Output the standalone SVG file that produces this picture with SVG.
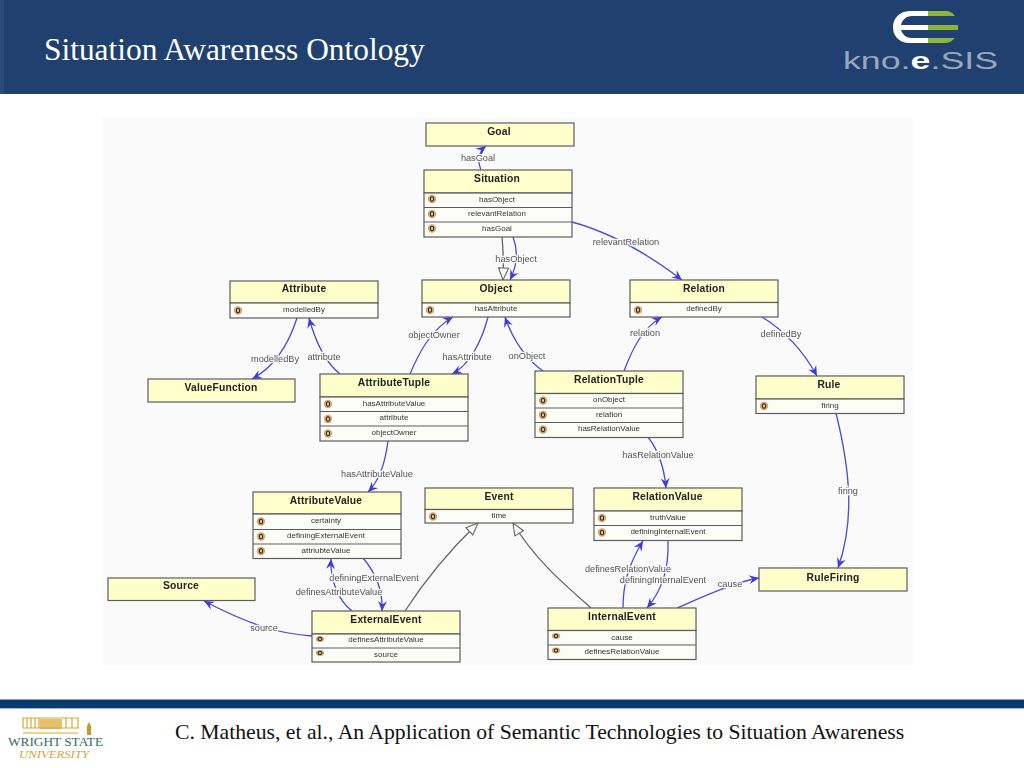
<svg xmlns="http://www.w3.org/2000/svg" width="1024" height="768" viewBox="0 0 1024 768">
<style>
text{font-family:"Liberation Sans",Arial,sans-serif}
.box{fill:#fdfdf8;stroke:#5c5c5c;stroke-width:1.2}
.hd{fill:#ffffcc;stroke:#5c5c5c;stroke-width:1.2}
.ln{stroke:#5c5c5c;stroke-width:1.1}
.nm{font-size:10.3px;font-weight:700;fill:#222;text-anchor:middle;letter-spacing:.2px}
.rw{font-size:8px;fill:#333;text-anchor:middle}
.e{fill:none;stroke:#4a4ad8;stroke-width:1.3;marker-end:url(#arr)}
.s{fill:none;stroke:#666;stroke-width:1.3;marker-end:url(#tri)}
.lb{font-size:9.2px;fill:#555;text-anchor:middle;stroke:#fafafa;stroke-width:2.5px;paint-order:stroke}
</style>
<defs>
<filter id="soft" x="-5%" y="-5%" width="110%" height="110%"><feGaussianBlur stdDeviation="0.35"/></filter>
<marker id="arr" markerUnits="userSpaceOnUse" markerWidth="14" markerHeight="12" refX="12" refY="6" orient="auto"><path d="M2,1.500 L12,6 L2,10.500 L5.500,6Z" fill="#3a3ae0"/></marker>
<marker id="tri" markerUnits="userSpaceOnUse" markerWidth="14" markerHeight="14" refX="13" refY="7" orient="auto"><path d="M1,2 L13,7 L1,12Z" fill="#fff" stroke="#666" stroke-width="1.1"/></marker>
<g id="ic"><circle r="4.200" fill="#d3a97c"/><ellipse rx="1.600" ry="2.200" fill="#e8cf9c" stroke="#3a2a10" stroke-width="1.100"/></g>
<g id="iu"><ellipse rx="4.200" ry="3" fill="#d3a97c"/><ellipse rx="1.800" ry="1.600" fill="#e8cf9c" stroke="#3a2a10" stroke-width="1.100"/></g>
</defs>
<rect width="1024" height="768" fill="#fff"/>
<g id="header">
<rect width="1024" height="94" fill="#20406f"/>
<rect width="4" height="94" fill="#2a4a7a"/>
<text x="44" y="60" style="font-family:'Liberation Serif','Times New Roman',serif;font-size:31.4px;fill:#fff">Situation Awareness Ontology</text>
<path d="M928,11H910C898,11 893,20 893,27C893,35 898,43 910,43H928V38H912C905,38 902,33 901,30H928V25H901C902,20 906,16 912,16H928Z" fill="#fff"/>
<path d="M928,11H945C950,11 953,13 955,16H928ZM928,25H958V30H928ZM928,38H955C952,41 949,43 945,43H928Z" fill="#8db53c"/>
<text x="843" y="69" textLength="155" lengthAdjust="spacingAndGlyphs" style="font-size:23px;fill:#9aa7ba">kno.<tspan style="fill:#fff;font-weight:700">e</tspan>.SIS</text>
</g>
<rect x="102" y="118" width="811" height="547" fill="#fafafa"/>
<g id="diagram" filter="url(#soft)">
<g id="connectors">
<path class="e" d="M481,170Q475,155 486,146"/>
<path class="s" d="M502,237Q504,258 503,280"/>
<path class="e" d="M513,237Q521,258 510,280"/>
<path class="e" d="M572,222C605,231 640,248 682,280"/>
<path class="e" d="M297,318C290,340 278,365 252,379"/>
<path class="e" d="M340,374C325,362 315,340 309,318"/>
<path class="e" d="M410,374C418,355 430,330 453,317"/>
<path class="e" d="M488,317C482,340 470,365 452,374"/>
<path class="e" d="M543,371C525,358 513,340 505,317"/>
<path class="e" d="M624,371C632,350 642,328 662,317"/>
<path class="e" d="M762,317C780,328 800,345 817,376"/>
<path class="e" d="M836,413C850,470 855,520 838,568"/>
<path class="e" d="M648,437C658,450 664,465 666,488"/>
<path class="e" d="M388,441C385,465 378,482 368,492"/>
<path class="e" d="M363,558C375,572 383,590 382,611"/>
<path class="e" d="M352,611C338,600 330,580 331,559"/>
<path class="e" d="M312,636C280,634 250,625 204,601"/>
<path class="s" d="M405,611C425,580 450,550 478,523"/>
<path class="s" d="M591,608C565,585 535,560 513,523"/>
<path class="e" d="M623,608C623,585 628,565 643,541"/>
<path class="e" d="M668,541C669,570 662,590 647,608"/>
<path class="e" d="M677,608C700,598 735,582 759,578"/>
<text class="lb" x="478" y="161">hasGoal</text>
<text class="lb" x="516" y="262">hasObject</text>
<text class="lb" x="626" y="245">relevantRelation</text>
<text class="lb" x="434" y="338">objectOwner</text>
<text class="lb" x="467" y="360">hasAttribute</text>
<text class="lb" x="527" y="359">onObject</text>
<text class="lb" x="645" y="336">relation</text>
<text class="lb" x="781" y="337">definedBy</text>
<text class="lb" x="275" y="362">modelledBy</text>
<text class="lb" x="324" y="360">attribute</text>
<text class="lb" x="377" y="477">hasAttributeValue</text>
<text class="lb" x="658" y="458">hasRelationValue</text>
<text class="lb" x="848" y="494">firing</text>
<text class="lb" x="374" y="581">definingExternalEvent</text>
<text class="lb" x="339" y="595">definesAttributeValue</text>
<text class="lb" x="264" y="631">source</text>
<text class="lb" x="628" y="572">definesRelationValue</text>
<text class="lb" x="663" y="583">definingInternalEvent</text>
<text class="lb" x="730" y="587">cause</text>
</g>
<g id="Goal"><rect class="hd" x="426" y="123" width="148" height="23"/><text class="nm" x="499" y="135">Goal</text></g>
<g id="Situation"><rect class="hd" x="424" y="170" width="148" height="23"/><rect class="box" x="424" y="193" width="148" height="44"/><path class="ln" d="M424,207.500H572M424,222H572"/><text class="nm" x="497" y="182">Situation</text>
<use href="#ic" x="432" y="199"/><text class="rw" x="497" y="201.500">hasObject</text><use href="#ic" x="432" y="214"/><text class="rw" x="497" y="216">relevantRelation</text><use href="#ic" x="432" y="228.500"/><text class="rw" x="497" y="230.500">hasGoal</text></g>
<g id="Attribute"><rect class="hd" x="230" y="281" width="148" height="22"/><rect class="box" x="230" y="303" width="148" height="15"/><text class="nm" x="304" y="292">Attribute</text><use href="#ic" x="238" y="310.500"/><text class="rw" x="304" y="312">modelledBy</text></g>
<g id="Object"><rect class="hd" x="422" y="280" width="148" height="23"/><rect class="box" x="422" y="303" width="148" height="14"/><text class="nm" x="496" y="291.500">Object</text><use href="#ic" x="430" y="310"/><text class="rw" x="496" y="311">hasAttribute</text></g>
<g id="Relation"><rect class="hd" x="630" y="280" width="148" height="22.500"/><rect class="box" x="630" y="302.500" width="148" height="14.500"/><text class="nm" x="704" y="291.500">Relation</text><use href="#ic" x="638" y="310"/><text class="rw" x="704" y="311">definedBy</text></g>
<g id="ValueFunction"><rect class="hd" x="148" y="379" width="147" height="23"/><text class="nm" x="221" y="390.500">ValueFunction</text></g>
<g id="AttributeTuple"><rect class="hd" x="320" y="374" width="148" height="23"/><rect class="box" x="320" y="397" width="148" height="44"/><path class="ln" d="M320,411.500H468M320,426H468"/><text class="nm" x="394" y="386">AttributeTuple</text>
<use href="#ic" x="328" y="404"/><text class="rw" x="394" y="405.500">hasAttributeValue</text><use href="#ic" x="328" y="419"/><text class="rw" x="394" y="420">attribute</text><use href="#ic" x="328" y="433.500"/><text class="rw" x="394" y="435">objectOwner</text></g>
<g id="RelationTuple"><rect class="hd" x="535" y="371" width="148" height="22.500"/><rect class="box" x="535" y="393.500" width="148" height="44"/><path class="ln" d="M535,408H683M535,422.500H683"/><text class="nm" x="609" y="382.500">RelationTuple</text>
<use href="#ic" x="543" y="400.500"/><text class="rw" x="609" y="402">onObject</text><use href="#ic" x="543" y="415"/><text class="rw" x="609" y="416.500">relation</text><use href="#ic" x="543" y="429.500"/><text class="rw" x="609" y="431">hasRelationValue</text></g>
<g id="Rule"><rect class="hd" x="756" y="376" width="148" height="23"/><rect class="box" x="756" y="399" width="148" height="14.500"/><text class="nm" x="829" y="388">Rule</text><use href="#ic" x="764" y="406"/><text class="rw" x="830" y="408">firing</text></g>
<g id="AttributeValue"><rect class="hd" x="253" y="492" width="148" height="22"/><rect class="box" x="253" y="514" width="148" height="44.500"/><path class="ln" d="M253,529.500H401M253,544H401"/><text class="nm" x="326" y="503.500">AttributeValue</text>
<use href="#ic" x="261" y="521.500"/><text class="rw" x="326" y="523">certainty</text><use href="#ic" x="261" y="536.500"/><text class="rw" x="326" y="538">definingExternalEvent</text><use href="#ic" x="261" y="551"/><text class="rw" x="326" y="552.500">attriubteValue</text></g>
<g id="Event"><rect class="hd" x="425" y="488" width="148" height="21.500"/><rect class="box" x="425" y="509.500" width="148" height="13.500"/><text class="nm" x="499" y="499.500">Event</text><use href="#ic" x="433" y="516.500"/><text class="rw" x="499" y="518">time</text></g>
<g id="RelationValue"><rect class="hd" x="594" y="488" width="148" height="23"/><rect class="box" x="594" y="511" width="148" height="29.500"/><path class="ln" d="M594,525.500H742"/><text class="nm" x="667.500" y="499.500">RelationValue</text><use href="#ic" x="602" y="518"/><text class="rw" x="668" y="519.500">truthValue</text><use href="#ic" x="602" y="532.500"/><text class="rw" x="668" y="534">definingInternalEvent</text></g>
<g id="Source"><rect class="hd" x="108" y="578" width="147" height="22.500"/><text class="nm" x="181" y="589">Source</text></g>
<g id="ExternalEvent"><rect class="hd" x="312" y="611" width="148" height="23"/><rect class="box" x="312" y="634" width="148" height="28"/><path class="ln" d="M312,648H460"/><text class="nm" x="386" y="622.500">ExternalEvent</text><use href="#iu" x="320" y="639"/><text class="rw" x="386" y="642">definesAttributeValue</text><use href="#iu" x="320" y="653"/><text class="rw" x="386" y="656.500">source</text></g>
<g id="InternalEvent"><rect class="hd" x="548" y="608" width="148" height="22.500"/><rect class="box" x="548" y="630.500" width="148" height="29"/><path class="ln" d="M548,645H696"/><text class="nm" x="622" y="620">InternalEvent</text><use href="#iu" x="556" y="636"/><text class="rw" x="622" y="639.500">cause</text><use href="#iu" x="556" y="650.500"/><text class="rw" x="622" y="653.500">definesRelationValue</text></g>
<g id="RuleFiring"><rect class="hd" x="759" y="568" width="148" height="23"/><text class="nm" x="833" y="580.500">RuleFiring</text></g>
</g>
<g id="footer">
<rect y="699" width="1024" height="1.500" fill="#7fa3c9"/>
<rect y="700" width="1024" height="8" fill="#0b3a6f"/>
<rect y="708" width="1024" height="1" fill="#9db8d6"/>
<text x="175" y="739" style="font-family:'Liberation Serif','Times New Roman',serif;font-size:21.7px;fill:#111">C. Matheus, et al., An Application of Semantic Technologies to Situation Awareness</text>
<path d="M23,718H78V728H23ZM27,718V728M31,718V728M35,718V728M39,718V728M66,718V728M72,718V728M23,733H78" fill="none" stroke="#d9a72e" stroke-width="1.200"/>
<path d="M40,719H62V729H40Z" fill="#d9a72e" opacity=".7"/>
<path d="M89,722l2,4v9h-4v-9Z" fill="#c8962a"/>
<text x="8" y="746" textLength="95" lengthAdjust="spacingAndGlyphs" style="font-family:'Liberation Serif',serif;font-size:13px;fill:#2f6f5a">WRIGHT STATE</text>
<text x="19" y="758" textLength="70" lengthAdjust="spacingAndGlyphs" style="font-family:'Liberation Serif',serif;font-size:10px;font-style:italic;fill:#d0a83a">UNIVERSITY</text>
</g>
</svg>
